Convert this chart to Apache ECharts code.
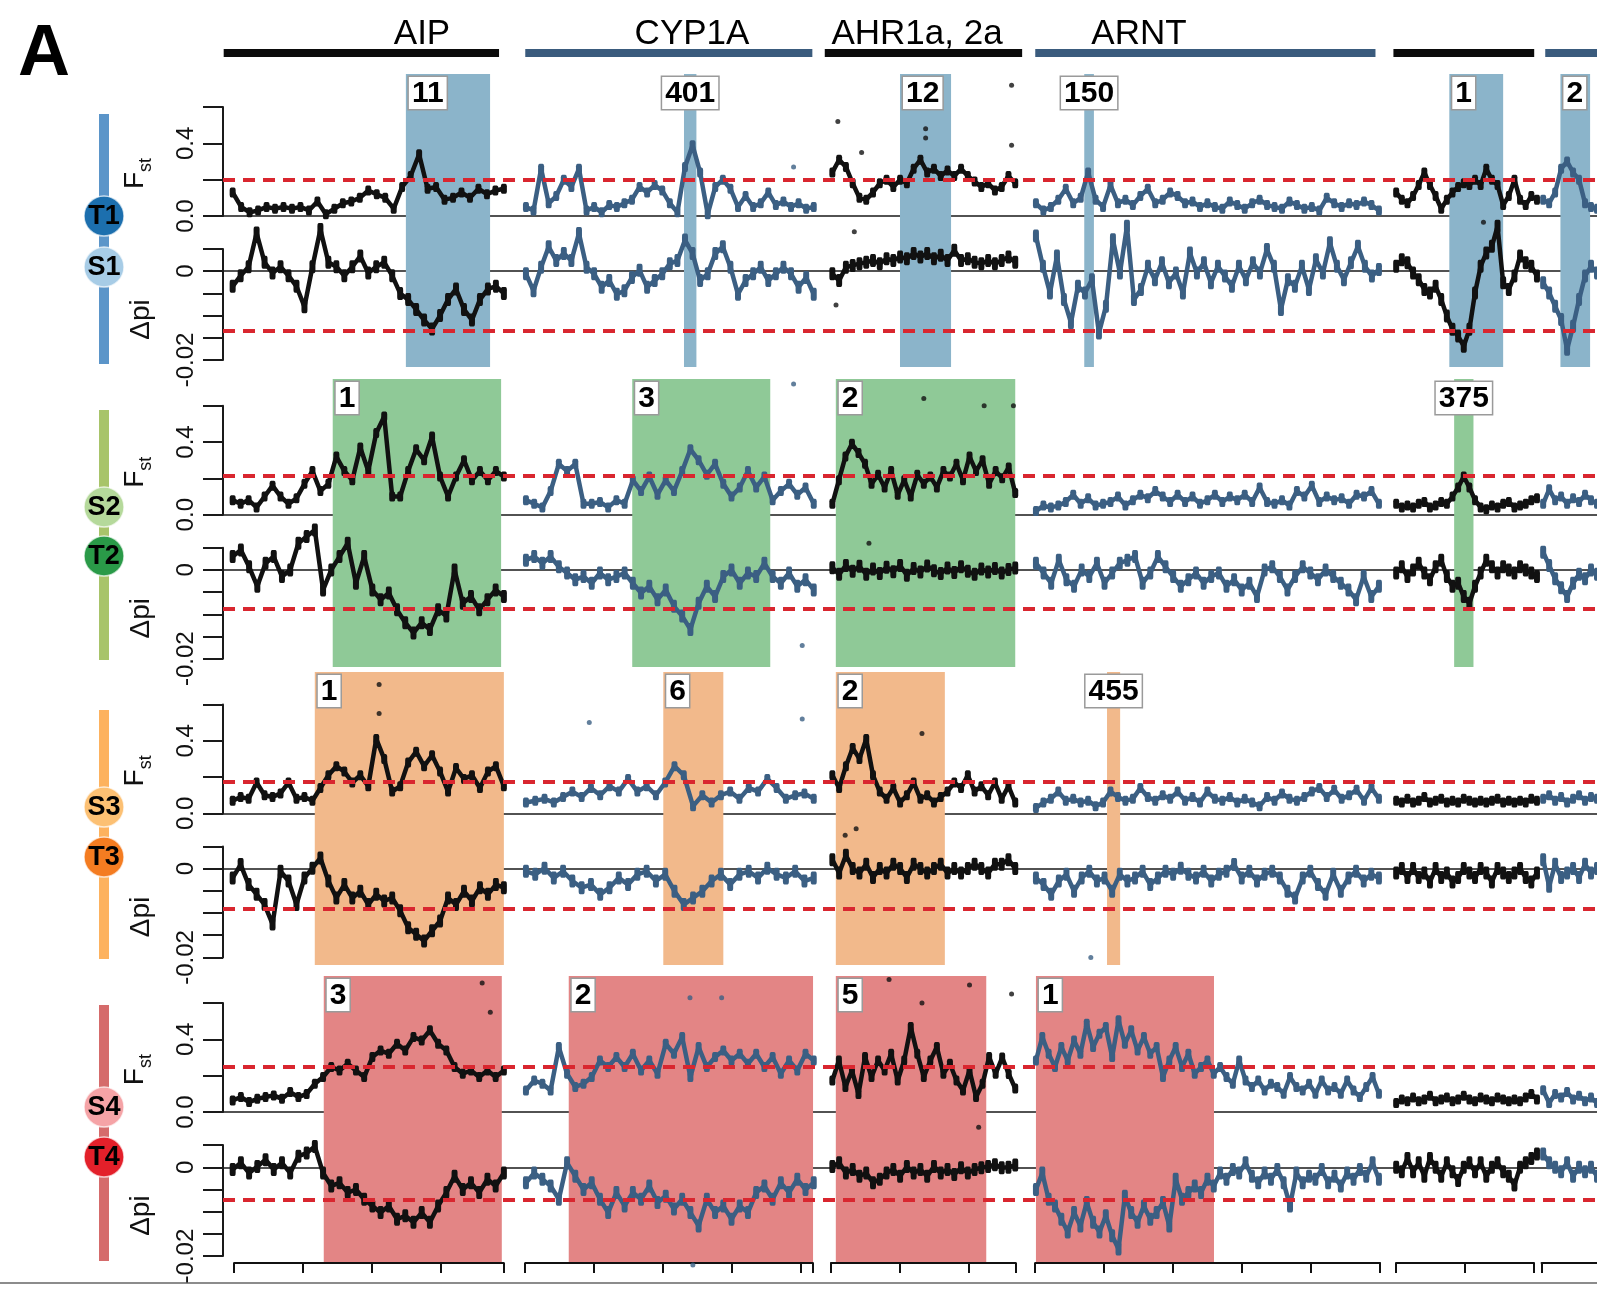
<!DOCTYPE html>
<html lang="en">
<head>
<meta charset="UTF-8">
<title>Fst / Δpi scan</title>
<style>
  html, body { margin: 0; padding: 0; background: #fff; }
  #chart { width: 1597px; height: 1294px; }
</style>
</head>
<body>
<div id="chart"></div>
<script src="https://cdn.jsdelivr.net/npm/echarts/dist/echarts.min.js"></script>
<script>
// ---- scaffolds (kb along one shared x axis, gaps between scaffolds) ----
var segStart = [14, 439, 883, 1178, 1700, 1913];
var segSpan  = [393, 417, 265, 497, 204, 78];
var segBlack = [true, false, true, false, true, false];
var tickStart = [16, 438, 881, 1177, 1700, 1911];
var tickLen   = [391, 417, 268, 500, 200, 200];
var geneBars  = [[1, 400], [438, 854], [872, 1158], [1177, 1670], [1696, 1900], [1916, 2100]];
var geneNames = ['AIP', 'CYP1A', 'AHR1a, 2a', 'ARNT'];

// ---- thresholds ----
var fstCut = [0.2, 0.215, 0.175, 0.25];
var dpiCut = [-0.0135, -0.0087, -0.009, -0.0073];

// ---- highlighted windows [from kb, to kb, rank] ----
var shadeRow1 = [[265, 387, '11'], [668, 686, '401'], [981, 1055, '12'], [1248, 1262, '150'], [1777, 1855, '1'], [1938, 1981, '2']];
var shadeRow2 = [[159, 403, '1'], [593, 793, '3'], [888, 1148, '2'], [1784, 1812, '375']];
var shadeRow3 = [[133, 407, '1'], [638, 725, '6'], [888, 1046, '2'], [1281, 1300, '455']];
var shadeRow4 = [[146, 404, '3'], [501, 855, '2'], [888, 1106, '5'], [1178, 1436, '1']];

// ---- Fst per scaffold, T1/S1 ----
var fstRow1 = [
  [0.13,0.05,0.02,0.03,0.05,0.04,0.05,0.04,0.05,0.03,0.08,0.01,0.04,0.07,0.08,0.10,0.14,0.12,0.10,0.04,0.16,0.22,0.34,0.15,0.16,0.09,0.10,0.13,0.10,0.15,0.12,0.14,0.15],
  [0.05,0.03,0.26,0.07,0.11,0.20,0.16,0.26,0.03,0.05,0.02,0.06,0.05,0.07,0.09,0.16,0.13,0.17,0.14,0.07,0.02,0.27,0.39,0.24,0.01,0.16,0.20,0.15,0.05,0.11,0.05,0.07,0.13,0.06,0.08,0.05,0.07,0.04,0.05],
  [0.24,0.31,0.27,0.18,0.10,0.09,0.13,0.18,0.20,0.16,0.20,0.18,0.26,0.31,0.24,0.26,0.22,0.25,0.22,0.26,0.22,0.19,0.16,0.18,0.14,0.16,0.22,0.18],
  [0.07,0.03,0.05,0.09,0.15,0.07,0.10,0.24,0.09,0.05,0.17,0.07,0.09,0.06,0.11,0.15,0.07,0.09,0.13,0.11,0.07,0.08,0.05,0.07,0.05,0.04,0.08,0.06,0.04,0.07,0.09,0.06,0.05,0.04,0.08,0.06,0.04,0.05,0.03,0.10,0.07,0.05,0.07,0.06,0.08,0.06,0.03],
  [0.13,0.09,0.07,0.11,0.17,0.24,0.17,0.11,0.04,0.09,0.13,0.16,0.18,0.17,0.20,0.17,0.26,0.20,0.17,0.06,0.11,0.20,0.09,0.06,0.11,0.09],
  [0.09,0.07,0.13,0.26,0.30,0.24,0.20,0.07,0.05,0.04]
];
var dpiRow1 = [
  [-0.0034,-0.001,0.001,0.0086,0.002,-0.0004,0.001,-0.001,-0.0034,-0.008,0.001,0.0094,0.002,0.001,-0.001,0.001,0.0034,-0.0004,0.001,0.002,-0.001,-0.005,-0.0064,-0.0086,-0.011,-0.013,-0.010,-0.0064,-0.004,-0.0086,-0.011,-0.0064,-0.004,-0.0034,-0.005],
  [-0.0006,-0.0044,0.0009,0.0055,0.0024,0.004,0.0024,0.0085,0.0009,-0.0006,-0.0036,-0.0021,-0.0052,-0.0044,-0.0014,0.0002,-0.0036,-0.0021,-0.0006,0.0017,0.0024,0.007,0.004,-0.0021,-0.0006,0.004,0.0055,0.0009,-0.0052,-0.0021,-0.0006,0.0009,-0.0021,-0.0006,0.0009,-0.0006,-0.0036,-0.0014,-0.0052],
  [-0.0006,-0.0021,0.0009,0.0013,0.0017,0.002,0.0024,0.0017,0.0028,0.0024,0.0032,0.0028,0.004,0.0032,0.004,0.0028,0.0036,0.0024,0.0047,0.0024,0.0028,0.002,0.0017,0.0024,0.0017,0.0024,0.0032,0.002],
  [0.0079,0.0011,-0.0049,0.0034,-0.0064,-0.0116,-0.0034,-0.0049,-0.0019,-0.0139,-0.0079,0.0071,-0.0004,0.0101,-0.0064,-0.0041,0.0011,-0.0019,0.0019,-0.0026,-0.0004,-0.0049,0.0041,-0.0004,0.0019,-0.0026,0.0011,-0.0011,-0.0034,0.0011,-0.0019,0.0019,-0.0004,0.0049,0.0011,-0.0086,-0.0019,-0.0034,0.0011,-0.0041,0.0026,-0.0004,0.0064,0.0011,-0.0019,0.0019,0.0056,0.0011,-0.0011,0.0004],
  [0.0011,0.0026,0.0019,-0.0004,-0.0019,-0.0041,-0.0049,-0.0034,-0.0064,-0.0101,-0.0131,-0.0146,-0.0169,-0.0131,-0.0049,0.0011,0.0041,0.0056,0.0101,-0.0026,-0.0041,-0.0011,0.0034,0.0019,0.0011,-0.0011],
  [-0.0026,-0.0049,-0.0079,-0.0109,-0.0176,-0.0124,-0.0064,-0.0011,0.0011,-0.0004]
];

// ---- S2/T2 ----
var fstRow2 = [
  [0.08,0.06,0.08,0.04,0.10,0.16,0.10,0.06,0.09,0.17,0.24,0.13,0.17,0.32,0.24,0.19,0.37,0.24,0.45,0.54,0.10,0.10,0.24,0.36,0.30,0.43,0.21,0.10,0.21,0.30,0.19,0.24,0.19,0.24,0.21],
  [0.08,0.06,0.04,0.13,0.28,0.24,0.28,0.06,0.06,0.07,0.04,0.08,0.06,0.19,0.13,0.21,0.11,0.19,0.13,0.24,0.36,0.30,0.22,0.28,0.17,0.10,0.15,0.24,0.15,0.21,0.08,0.13,0.17,0.11,0.15,0.06],
  [0.06,0.19,0.32,0.39,0.34,0.28,0.17,0.22,0.15,0.24,0.11,0.19,0.10,0.22,0.17,0.21,0.15,0.24,0.21,0.28,0.19,0.32,0.24,0.30,0.17,0.24,0.20,0.26,0.12],
  [0.02,0.05,0.04,0.05,0.07,0.11,0.06,0.09,0.05,0.06,0.07,0.10,0.05,0.08,0.11,0.09,0.13,0.10,0.07,0.11,0.07,0.10,0.06,0.08,0.11,0.07,0.10,0.08,0.11,0.07,0.15,0.07,0.06,0.08,0.05,0.13,0.10,0.16,0.07,0.10,0.08,0.09,0.06,0.11,0.10,0.13,0.06],
  [0.06,0.04,0.05,0.04,0.06,0.07,0.04,0.05,0.07,0.06,0.10,0.15,0.21,0.15,0.08,0.04,0.03,0.05,0.04,0.06,0.07,0.04,0.05,0.06,0.08,0.09],
  [0.06,0.14,0.08,0.10,0.06,0.09,0.07,0.11,0.08,0.06]
];
var dpiRow2 = [
  [0.003,0.0045,0.0007,-0.0037,0.0015,0.003,-0.0015,0,0.006,0.0075,0.009,-0.0045,0,0.003,0.006,-0.003,0.003,-0.0045,-0.0067,-0.0052,-0.009,-0.0119,-0.0142,-0.0119,-0.0134,-0.009,-0.0104,0,-0.0075,-0.006,-0.009,-0.0067,-0.0045,-0.006],
  [0.0022,0.003,0.0015,0.003,0.0007,-0.0007,-0.0022,-0.0015,-0.003,-0.0007,-0.0022,-0.0015,-0.0007,-0.003,-0.0052,-0.0037,-0.0067,-0.0045,-0.0082,-0.0104,-0.0134,-0.0075,-0.0037,-0.006,-0.0015,0,-0.003,-0.0007,-0.0015,0.0015,-0.0015,-0.003,-0.0007,-0.0037,-0.0022,-0.0045],
  [0.0005,-0.001,0.001,-0.0003,0.0008,-0.001,0.0002,-0.0008,0.0006,-0.0004,0.001,-0.0012,0.0003,-0.0005,0.0009,-0.0002,-0.0008,0.0004,-0.0006,0.0007,-0.0003,-0.001,0.0002,-0.0005,0.0003,-0.0007,0.0001,0.0004],
  [0.0015,-0.0007,-0.003,0.0022,-0.0022,-0.0037,0,-0.0015,0.0015,-0.003,-0.0007,0.0015,0.0022,0.003,-0.003,-0.0007,0.003,0.0007,-0.0015,-0.0037,-0.0022,-0.0007,-0.003,-0.0015,-0.0007,-0.0037,-0.0022,-0.0045,-0.003,-0.006,0,0.0007,-0.0015,-0.0045,-0.0015,0.0007,-0.0007,-0.0022,0,-0.0015,-0.003,-0.0045,-0.0067,-0.0015,-0.006,-0.0037],
  [-0.0007,0.0007,-0.0015,0,0.0015,-0.0007,-0.0022,0.0007,0.0022,-0.0015,-0.0037,-0.003,-0.006,-0.0075,-0.0037,-0.0007,0.0022,0.0007,-0.0007,0.0007,0,-0.0007,0.0007,0,-0.0007,-0.0015],
  [0.004,0.001,-0.002,-0.004,-0.006,-0.003,-0.001,-0.002,0,-0.001]
];

// ---- S3/T3 ----
var fstRow3 = [
  [0.07,0.09,0.08,0.17,0.10,0.09,0.11,0.17,0.08,0.09,0.07,0.14,0.21,0.26,0.23,0.17,0.21,0.15,0.41,0.30,0.12,0.15,0.28,0.34,0.26,0.32,0.23,0.12,0.25,0.19,0.21,0.14,0.23,0.26,0.15],
  [0.06,0.07,0.08,0.06,0.09,0.12,0.09,0.14,0.10,0.15,0.12,0.19,0.12,0.15,0.10,0.17,0.26,0.21,0.04,0.10,0.06,0.10,0.12,0.08,0.14,0.12,0.19,0.14,0.08,0.10,0.11,0.08],
  [0.21,0.14,0.26,0.36,0.30,0.41,0.21,0.12,0.08,0.14,0.06,0.10,0.17,0.08,0.10,0.06,0.09,0.12,0.17,0.14,0.21,0.12,0.15,0.10,0.17,0.08,0.15,0.06],
  [0.03,0.06,0.08,0.12,0.07,0.08,0.06,0.07,0.04,0.06,0.12,0.09,0.07,0.08,0.14,0.09,0.07,0.10,0.08,0.12,0.07,0.09,0.06,0.12,0.08,0.07,0.09,0.06,0.08,0.06,0.04,0.09,0.07,0.11,0.08,0.07,0.09,0.12,0.14,0.09,0.13,0.08,0.10,0.13,0.07,0.14,0.08],
  [0.07,0.06,0.08,0.06,0.07,0.09,0.06,0.07,0.08,0.06,0.07,0.06,0.08,0.07,0.06,0.07,0.06,0.07,0.08,0.06,0.07,0.06,0.07,0.06,0.08,0.07],
  [0.08,0.10,0.07,0.09,0.06,0.08,0.10,0.07,0.09,0.08]
];
var dpiRow3 = [
  [-0.0021,0.0009,-0.0036,-0.0058,-0.0081,-0.0125,-0.0006,-0.0028,-0.0081,-0.0021,0.0001,0.0024,-0.0028,-0.0066,-0.0036,-0.0066,-0.0051,-0.0081,-0.0058,-0.0073,-0.0066,-0.0095,-0.0133,-0.0148,-0.0163,-0.014,-0.0118,-0.0066,-0.0081,-0.0051,-0.0073,-0.0043,-0.0058,-0.0036,-0.0043],
  [-0.0006,-0.0013,0.0001,-0.0021,-0.0006,-0.0028,-0.0043,-0.0036,-0.0058,-0.0043,-0.0021,-0.0036,-0.0013,-0.0006,-0.0028,-0.0013,-0.0051,-0.0081,-0.0066,-0.0051,-0.0028,-0.0013,-0.0036,-0.0013,-0.0006,-0.0021,0.0001,-0.0013,-0.0021,-0.0006,-0.0028,-0.0021],
  [0.002,-0.001,0.003,0,-0.001,0.001,-0.002,0,-0.001,0.001,0,-0.002,0.001,0,-0.001,0,0.001,-0.001,0,-0.001,0,0.001,0,-0.001,0.001,0.001,0.002,0],
  [-0.0021,-0.0036,-0.0058,-0.0028,-0.0013,-0.0051,-0.0021,-0.0006,-0.0028,-0.0021,-0.0051,-0.0013,-0.0028,-0.0021,-0.0006,-0.0036,-0.0021,-0.0006,-0.0013,0.0001,-0.0013,-0.0021,-0.0006,-0.0028,-0.0013,-0.0006,0.0009,-0.0021,-0.0006,-0.0028,-0.0013,-0.0006,-0.0021,-0.0051,-0.0066,-0.0021,-0.0006,-0.0036,-0.0058,-0.0013,-0.0051,-0.0021,-0.0006,-0.0028,-0.0013,-0.0021],
  [-0.001,0,-0.002,0,-0.002,-0.001,-0.003,0,-0.002,-0.001,-0.003,-0.002,0,-0.001,-0.002,0,-0.001,-0.003,0,-0.001,-0.002,-0.001,0,-0.002,-0.003,-0.001],
  [0.002,-0.004,0.001,-0.002,-0.001,0,-0.002,0.001,-0.001,0]
];

// ---- S4/T4 ----
var fstRow4 = [
  [0.064,0.083,0.055,0.073,0.083,0.092,0.073,0.11,0.083,0.10,0.156,0.193,0.248,0.229,0.266,0.229,0.193,0.303,0.339,0.321,0.376,0.339,0.413,0.394,0.45,0.376,0.339,0.248,0.211,0.229,0.193,0.229,0.193,0.229],
  [0.119,0.174,0.156,0.119,0.358,0.211,0.138,0.156,0.193,0.284,0.248,0.303,0.248,0.321,0.229,0.284,0.211,0.376,0.321,0.413,0.193,0.358,0.248,0.303,0.339,0.284,0.321,0.266,0.321,0.248,0.303,0.211,0.284,0.229,0.321,0.284],
  [0.174,0.284,0.138,0.229,0.10,0.303,0.193,0.284,0.229,0.321,0.174,0.284,0.468,0.321,0.193,0.284,0.358,0.211,0.266,0.174,0.119,0.229,0.083,0.156,0.303,0.211,0.30,0.21,0.13],
  [0.284,0.413,0.321,0.248,0.358,0.284,0.394,0.321,0.486,0.358,0.431,0.468,0.303,0.505,0.376,0.45,0.339,0.413,0.321,0.358,0.193,0.284,0.358,0.248,0.321,0.211,0.248,0.284,0.211,0.248,0.193,0.156,0.284,0.174,0.138,0.174,0.119,0.156,0.138,0.101,0.193,0.138,0.119,0.156,0.101,0.174,0.119,0.138,0.101,0.174,0.119,0.083,0.138,0.193,0.101],
  [0.05,0.07,0.06,0.08,0.06,0.07,0.09,0.06,0.07,0.08,0.06,0.07,0.09,0.07,0.06,0.08,0.07,0.06,0.08,0.07,0.06,0.07,0.06,0.08,0.10,0.07],
  [0.12,0.05,0.10,0.08,0.11,0.07,0.09,0.06,0.08,0.05]
];
var dpiRow4 = [
  [-0.0005,0.001,-0.0013,0.0002,0.0017,-0.0005,0.001,-0.0013,0.0025,0.0032,0.0047,-0.0013,-0.0042,-0.0035,-0.0057,-0.005,-0.0072,-0.0087,-0.0102,-0.0087,-0.0117,-0.0109,-0.0124,-0.0102,-0.0124,-0.0087,-0.0057,-0.002,-0.005,-0.0035,-0.0057,-0.0027,-0.0042,-0.0013],
  [-0.0035,-0.0013,-0.0027,-0.0042,-0.0072,0.001,-0.002,-0.005,-0.0035,-0.0072,-0.0102,-0.0057,-0.0087,-0.0057,-0.0072,-0.0042,-0.0079,-0.0065,-0.0094,-0.0072,-0.0102,-0.0132,-0.0072,-0.0102,-0.0087,-0.0117,-0.0087,-0.0102,-0.0057,-0.0042,-0.0072,-0.0035,-0.0057,-0.0027,-0.005,-0.0035],
  [0.0002,0.001,-0.0013,-0.0005,-0.002,-0.0013,-0.0035,-0.0027,-0.0013,-0.0005,-0.002,0.0002,-0.0013,-0.0005,-0.002,0.0002,-0.0013,-0.0005,-0.0016,-0.0001,-0.0013,-0.0005,-0.0001,0.0002,0.0006,-0.0001,0,0.0005],
  [-0.005,-0.0013,-0.0072,-0.0087,-0.0117,-0.0146,-0.0102,-0.0132,-0.0079,-0.0124,-0.0146,-0.0109,-0.0154,-0.0184,-0.0065,-0.0102,-0.0124,-0.0087,-0.0117,-0.0102,-0.0079,-0.0132,-0.0027,-0.0072,-0.0057,-0.0042,-0.0057,-0.0027,-0.0042,-0.0013,-0.0027,-0.0005,-0.0013,0.001,-0.002,-0.0035,-0.0013,-0.0027,-0.0005,-0.0035,-0.0087,-0.0013,-0.0035,-0.002,-0.0027,-0.0005,-0.0035,-0.002,-0.0042,-0.0013,-0.0027,-0.0005,-0.002,0.001,-0.0027],
  [0,-0.001,0.002,-0.001,0.001,-0.002,0.002,0,-0.002,0.001,-0.001,-0.003,0,0.001,-0.001,0.001,-0.002,0,0.001,-0.001,-0.002,-0.004,0,0.001,0.002,0.003],
  [0.003,0.001,0,-0.001,0.001,-0.002,0,-0.001,0,-0.002]
];

// ---- isolated windows off the main band: [scaffold, fraction along it, 'f' = Fst | 'd' = Δpi, value] ----
var outRow1 = [[2, 0.03, 'f', 0.52], [2, 0.51, 'f', 0.48], [2, 0.51, 'f', 0.43], [2, 0.16, 'f', 0.35], [2, 0.98, 'f', 0.72], [2, 0.98, 'f', 0.39],
  [1, 0.93, 'f', 0.27], [2, 0.12, 'd', 0.0089], [2, 0.02, 'd', -0.0076], [4, 0.62, 'd', 0.011]];
var outRow2 = [[2, 0.5, 'f', 0.64], [2, 0.83, 'f', 0.6], [2, 0.99, 'f', 0.6], [1, 0.93, 'f', 0.72], [1, 0.96, 'd', -0.017], [2, 0.2, 'd', 0.006]];
var outRow3 = [[0, 0.54, 'f', 0.71], [0, 0.54, 'f', 0.55], [1, 0.22, 'f', 0.5], [1, 0.96, 'f', 0.52], [2, 0.49, 'f', 0.44],
  [2, 0.13, 'd', 0.009], [2, 0.07, 'd', 0.0075], [3, 0.16, 'd', -0.02]];
var outRow4 = [[2, 0.31, 'f', 0.73], [2, 0.75, 'f', 0.7], [2, 0.49, 'f', 0.6], [0, 0.92, 'f', 0.71], [0, 0.95, 'f', 0.55],
  [1, 0.57, 'f', 0.63], [1, 0.68, 'f', 0.63], [2, 0.98, 'f', 0.65], [1, 0.58, 'd', -0.022], [2, 0.8, 'd', 0.009]];

var rowLabels = [['T1', 'S1'], ['S2', 'T2'], ['S3', 'T3'], ['S4', 'T4']];

// ---- layout / style ----
var PX_LEFT = 223;
var KB_PER_PX = 100 / 69;
var X_MAX = 1991;
var ROW_STEP = 298.7;
var FONT = '"Liberation Sans", Arial, sans-serif';
var NARROW = '"Liberation Sans Narrow", "Liberation Sans", Arial, sans-serif';
var BLUE = '#3b5f83', BLACK = '#111111', RED = '#d9262f';
var shadeColor = ['#8bb4ca', '#8fc997', '#f2b98b', '#e38585'];
var shadeTop = [74, 379, 672, 976];
var shadeBottom = [367, 667, 965, 1262];

var fstAll = [fstRow1, fstRow2, fstRow3, fstRow4];
var dpiAll = [dpiRow1, dpiRow2, dpiRow3, dpiRow4];
var outAll = [outRow1, outRow2, outRow3, outRow4];
var shadeAll = [shadeRow1, shadeRow2, shadeRow3, shadeRow4];

var grid = [], xAxis = [], yAxis = [], series = [];
function addGrid(box, xa, ya) {
  var i = grid.length;
  grid.push(Object.assign({ containLabel: false, outerBoundsMode: 'none' }, box));
  xAxis.push(Object.assign({ gridIndex: i }, xa));
  yAxis.push(Object.assign({ gridIndex: i }, ya));
  return i;
}
var hiddenX = { type: 'value', min: 0, max: X_MAX, show: false };
var hiddenY = { type: 'value', min: 0, max: 1, show: false };

// shaded windows (under the points)
shadeAll.forEach(function (rects, r) {
  var gi = addGrid({ left: PX_LEFT, right: 0, top: shadeTop[r], height: shadeBottom[r] - shadeTop[r] }, hiddenX, hiddenY);
  series.push({
    type: 'line', xAxisIndex: gi, yAxisIndex: gi, data: [], silent: true, z: 1,
    markArea: {
      silent: true,
      itemStyle: { color: shadeColor[r], opacity: 1 },
      label: { show: false },
      data: rects.map(function (d) { return [{ xAxis: d[0] }, { xAxis: d[1] }]; })
    }
  });
});

// gene bars across the top
var gb = addGrid({ left: PX_LEFT, right: 0, top: 49, height: 8 }, hiddenX, hiddenY);
geneBars.forEach(function (b, k) {
  series.push({
    type: 'line', xAxisIndex: gb, yAxisIndex: gb, data: [[b[0], 0.5], [b[1], 0.5]],
    symbol: 'none', silent: true, z: 2,
    lineStyle: { width: 8, color: segBlack[k] ? '#0b0b0b' : '#3a5b7d', cap: 'butt' }
  });
});

function valueAxisX() {
  return {
    type: 'value', min: 0, max: X_MAX,
    axisLine: { show: true, onZero: true, lineStyle: { color: '#1a1a1a', width: 1.6 } },
    axisTick: { show: false }, axisLabel: { show: false }, splitLine: { show: false }
  };
}
function leftAxis(min, max, step, fmt, name, pad) {
  return {
    type: 'value', min: min, max: max, interval: step, position: 'left',
    axisLine: { show: true, onZero: false, lineStyle: { color: '#1a1a1a', width: 2 } },
    axisTick: { show: true, length: 20, lineStyle: { color: '#1a1a1a', width: 2 } },
    axisLabel: { rotate: 90, margin: 25, fontSize: 24, color: '#111', fontFamily: NARROW, formatter: fmt },
    splitLine: { show: false },
    name: name, nameLocation: 'middle', nameGap: 68, nameRotate: 90,
    nameTextStyle: {
      fontSize: 28, color: '#111', fontFamily: FONT, padding: pad,
      rich: {
        f: { fontSize: 28, fontFamily: FONT, color: '#111', padding: [0, 0, 6, 0], verticalAlign: 'bottom' },
        s: { fontSize: 18, fontFamily: FONT, color: '#111', verticalAlign: 'bottom' }
      }
    }
  };
}
var fstFmt = function (v) { return Math.abs(v) < 1e-9 ? '0.0' : (Math.abs(v - 0.4) < 1e-9 ? '0.4' : ''); };
var dpiFmt = function (v) { return Math.abs(v) < 1e-9 ? '0' : (Math.abs(v + 0.02) < 1e-9 ? '-0.02' : ''); };

// each window is drawn as a short vertical blob, so the run reads like a dense cloud of SNP windows
function addPoints(gi, rowData, cut, outs, kind, blobH) {
  rowData.forEach(function (vals, k) {
    var col = segBlack[k] ? BLACK : BLUE;
    var s = {
      type: 'line', xAxisIndex: gi, yAxisIndex: gi, silent: true, z: 3, clip: false,
      data: vals.map(function (v, i) { return [segStart[k] + i * segSpan[k] / (vals.length - 1), v]; }),
      symbol: 'roundRect', symbolSize: [6, blobH], showAllSymbol: true,
      lineStyle: { width: 4.5, color: col, join: 'round' }, itemStyle: { color: col }
    };
    if (k === 0) {
      s.markLine = {
        silent: true, symbol: ['none', 'none'], label: { show: false }, precision: 6,
        lineStyle: { type: [12, 8], width: 4, color: RED },
        data: [{ yAxis: cut }]
      };
    }
    series.push(s);
  });
  var pts = outs.filter(function (o) { return o[2] === kind; });
  series.push({
    type: 'scatter', xAxisIndex: gi, yAxisIndex: gi, silent: true, z: 3, clip: false,
    symbolSize: 5,
    data: pts.map(function (o) {
      return { value: [segStart[o[0]] + o[1] * segSpan[o[0]], o[3]], itemStyle: { color: segBlack[o[0]] ? BLACK : BLUE } };
    })
  });
}

for (var r = 0; r < 4; r++) {
  var off = r * ROW_STEP;
  var gF = addGrid({ left: PX_LEFT, right: 0, top: 107 + off, height: 109 }, valueAxisX(),
    leftAxis(0, 0.6, 0.2, fstFmt, '{f|F}{s|st}', [0, 24, 0, 0]));
  addPoints(gF, fstAll[r], fstCut[r], outAll[r], 'f', 10);
  var gD = addGrid({ left: PX_LEFT, right: 0, top: 249 + off, height: 111 }, valueAxisX(),
    leftAxis(-0.02, 0.005, 0.005, dpiFmt, 'Δpi', [0, 30, 0, 0]));
  addPoints(gD, dpiAll[r], dpiCut[r], outAll[r], 'd', 13);
}

// rank boxes (above the points)
shadeAll.forEach(function (rects, r) {
  var gi = addGrid({ left: PX_LEFT, right: 0, top: shadeTop[r], height: shadeBottom[r] - shadeTop[r] }, hiddenX, hiddenY);
  series.push({
    type: 'line', xAxisIndex: gi, yAxisIndex: gi, data: [], silent: true, z: 5,
    markArea: {
      silent: true,
      itemStyle: { color: 'rgba(0,0,0,0)' },
      label: {
        show: true, distance: 3, color: '#000', fontSize: 30, fontWeight: 'bold', fontFamily: FONT,
        backgroundColor: '#fff', borderColor: '#9a9a9a', borderWidth: 1.5, padding: [2, 3, 0, 3], lineHeight: 30
      },
      data: rects.map(function (d) {
        return [{ name: d[2], xAxis: d[0], label: { position: (d[1] - d[0]) < 40 ? 'insideTop' : 'insideTopLeft' } }, { xAxis: d[1] }];
      })
    }
  });
});

// scaffold brackets along the bottom
tickStart.forEach(function (s, k) {
  addGrid({ left: PX_LEFT + s / KB_PER_PX, width: tickLen[k] / KB_PER_PX, top: 1262, height: 1 },
    {
      type: 'value', min: 0, max: tickLen[k], interval: 100,
      axisLine: { show: true, onZero: false, lineStyle: { color: '#111', width: 2 } },
      axisTick: { show: true, length: 10, lineStyle: { color: '#111', width: 2 } },
      axisLabel: { show: false }, splitLine: { show: false }
    }, hiddenY);
});

// decorations: panel letter, gene names, population markers
var graphic = [
  { type: 'text', x: 18, y: 55, style: { text: 'A', font: 'bold 72px ' + FONT, fill: '#000', align: 'left', verticalAlign: 'middle' } },
  { type: 'line', shape: { x1: 0, y1: 1283, x2: 1597, y2: 1283 }, style: { stroke: '#8c8c8c', lineWidth: 2 } }
];
var geneNameX = [422, 692, 917, 1139];
geneNames.forEach(function (g, i) {
  graphic.push({ type: 'text', x: geneNameX[i], y: 34, style: { text: g, font: '35px ' + FONT, fill: '#000', align: 'center', verticalAlign: 'middle' } });
});
var sideBar = [[114, 364, '#5b95c9'], [410, 660, '#a8c46a'], [710, 959, '#fdb25e'], [1005, 1261, '#d56b6b']];
var dotY = [[216, 267], [507, 556], [807, 857], [1107, 1157]];
var dotFill = [['#1c6fae', '#a7cce6'], ['#b5d99b', '#2a9a48'], ['#fcc073', '#f47c21'], ['#f5a3a6', '#e3202a']];
sideBar.forEach(function (b, r) {
  graphic.push({ type: 'rect', z: 10, shape: { x: 99, y: b[0], width: 10, height: b[1] - b[0] }, style: { fill: b[2] } });
  for (var j = 0; j < 2; j++) {
    graphic.push({ type: 'circle', z: 11, shape: { cx: 104, cy: dotY[r][j], r: 20 }, style: { fill: dotFill[r][j], stroke: 'rgba(255,255,255,0.7)', lineWidth: 1.5 } });
    graphic.push({ type: 'text', z: 12, x: 104, y: dotY[r][j] + 1, style: { text: rowLabels[r][j], font: 'bold 27px ' + FONT, fill: '#000', align: 'center', verticalAlign: 'middle' } });
  }
});

var chart = echarts.init(document.getElementById('chart'));
chart.setOption({
  animation: false,
  backgroundColor: '#fff',
  grid: grid, xAxis: xAxis, yAxis: yAxis, series: series,
  graphic: graphic
});
</script>
</body>
</html>
